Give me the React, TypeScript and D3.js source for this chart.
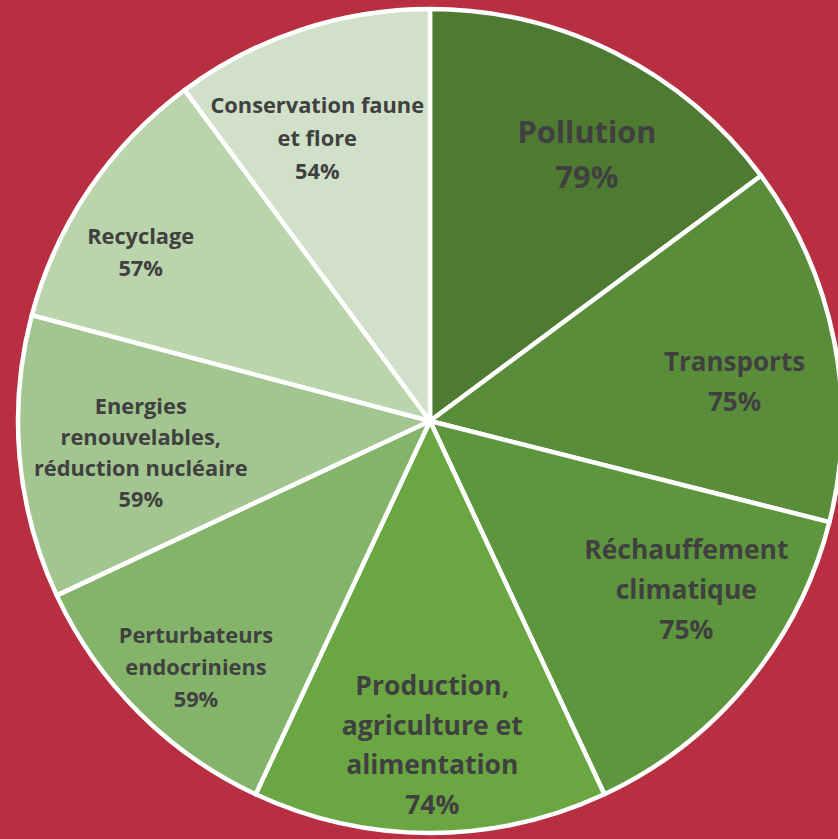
import React, { useEffect } from "react";
import * as d3 from "d3";

const categories: string[][] = [
  ["Pollution"],
  ["Transports"],
  ["Réchauffement", "climatique"],
  ["Production,", "agriculture et", "alimentation"],
  ["Perturbateurs", "endocriniens"],
  ["Energies", "renouvelables,", "réduction nucléaire"],
  ["Recyclage"],
  ["Conservation faune", "et flore"],
];
const values: number[] = [79, 75, 75, 74, 59, 59, 57, 54];
const colors: string[] = [
  "#4E7A32",
  "#5A8D3A",
  "#5E963D",
  "#6AA642",
  "#84B46A",
  "#A3C58F",
  "#BAD4AB",
  "#D1E0C9",
];
// label layout: radial distance, angle tweak (deg), font size, line height
const labelDist = [309, 307, 307, 324, 340, 291, 335, 304];
const labelTweak = [3.8, 3.9, -6.2, -0.4, -1.5, -1.2, -3.9, -3.5];
const labelSize = [30.7, 26, 26.5, 26.5, 21.8, 21.8, 21.8, 21.8];
const labelLead = [45, 40, 40, 39.5, 32, 31, 32, 33];

const W = 838;
const H = 839;
const CX = 430;
const CY = 421;
const R = 412;

export default function App() {
  useEffect(() => {
    document.body.style.margin = "0";
  }, []);

  const pie = d3.pie<number>().sort(null).value((d) => d);
  const arcs = pie(values);
  const arc = d3.arc<d3.PieArcDatum<number>>().innerRadius(0).outerRadius(R);

  return (
    <svg
      width={W}
      height={H}
      style={{ display: "block", position: "absolute", left: 0, top: 0 }}
    >
      <rect width={W} height={H} fill="#B72F40" />
      <g transform={`translate(${CX},${CY})`}>
        {arcs.map((a, i) => (
          <path
            key={i}
            d={arc(a) || ""}
            fill={colors[i]}
            stroke="#FFFFFF"
            strokeWidth={4.5}
            strokeLinejoin="round"
          />
        ))}
        {arcs.map((a, i) => {
          const mid = (a.startAngle + a.endAngle) / 2 + (labelTweak[i] * Math.PI) / 180;
          const x = Math.sin(mid) * labelDist[i];
          const y = -Math.cos(mid) * labelDist[i];
          const lines = [...categories[i], `${values[i]}%`];
          const lh = labelLead[i];
          const top = y - ((lines.length - 1) * lh) / 2;
          return (
            <text
              key={`t${i}`}
              textAnchor="middle"
              fontFamily="'Open Sans', 'Noto Sans', sans-serif"
              fontWeight="bold"
              fontSize={labelSize[i]}
              fill="#404040"
            >
              {lines.map((l, j) => (
                <tspan key={j} x={x} y={top + j * lh} dy="0.35em">
                  {l}
                </tspan>
              ))}
            </text>
          );
        })}
      </g>
    </svg>
  );
}
